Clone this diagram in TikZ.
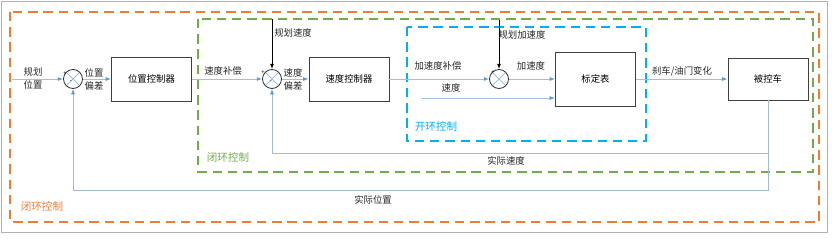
\documentclass[tikz,border=0pt]{standalone}
\usepackage{fontspec}
\setmainfont{Noto Sans CJK SC}
\usetikzlibrary{arrows.meta, positioning, calc}

\definecolor{loopOrange}{RGB}{237,125,49}
\definecolor{loopGreen}{RGB}{112,173,71}
\definecolor{loopBlue}{RGB}{0,176,240}
\definecolor{sigLine}{RGB}{160,192,225}
\definecolor{sigTip}{RGB}{91,155,213}
\definecolor{fbLine}{RGB}{165,185,210}

\begin{document}
\begin{tikzpicture}[
      x=0.03cm, y=-0.03cm,
      font=\fontsize{8pt}{11pt}\selectfont,
      >=Latex,
      block/.style={
        draw=black!75,
        line width=0.8pt,
        minimum width=24mm,
        minimum height=13.2mm,
        inner sep=0pt,
        align=center
      },
      sumnode/.style={
        draw=black!80,
        circle,
        line width=0.7pt,
        minimum size=5.7mm,
        inner sep=0pt,
        path picture={
          \draw[sigLine, line width=0.7pt]
            (path picture bounding box.north west) -- (path picture bounding box.south east)
            (path picture bounding box.north east) -- (path picture bounding box.south west);
        }
      },
      sign/.style={inner sep=0pt, font=\fontsize{5pt}{5pt}\selectfont},
      lbl/.style={inner sep=0pt, align=center, text=black!85},
      looplbl/.style={inner sep=0pt, font=\fontsize{9pt}{11pt}\selectfont},
      sig/.style={-{Latex[length=1.6mm,width=1.2mm,color=sigTip]}, draw=sigLine, line width=0.7pt},
      ref/.style={-{Latex[length=1.6mm,width=1.2mm]}, draw=black, line width=0.7pt},
      fb/.style={draw=fbLine, line width=0.7pt},
      loop/.style={line width=1.6pt, dash pattern=on 8pt off 5pt}
    ]
    \useasboundingbox (0,0) rectangle (832,238);
    \draw[black!30, line width=0.8pt] (1,1) rectangle (827,232);

    % Loop frames
    \draw[loop, loopOrange] (10,12) rectangle (819,222);
    \draw[loop, loopGreen] (198,19) rectangle (813,172);
    \draw[loop, loopBlue] (407,27) rectangle (646,141);

    % Blocks and summing points
    \node[sumnode] (sum1) at (73,79) {};
    \node[block] (posctrl) at (151.5,79) {位置控制器};
    \node[sumnode] (sum2) at (272,79) {};
    \node[block] (velctrl) at (349,79) {速度控制器};
    \node[sumnode] (sum3) at (499,79) {};
    \node[block, minimum height=16.2mm] (caltable) at (595.5,79) {标定表};
    \node[block, minimum height=12.6mm] (plant) at (768,79) {被控车};

    % Signs
    \node[sign] (sum1p) at (65,74) {+};
    \node[sign] (sum1m) at (71,82) {-};
    \node[sign] (sum2p) at (263,73) {+};
    \node[sign] (sum2m) at (271,82) {-};
    \node[sign] (sum3p) at (493,73) {+};

    % Free ends
    \coordinate (posIn) at (12,79);
    \coordinate (velRef) at (272,19);
    \coordinate (accRef) at (499,20);
    \coordinate (velIn) at (422,98);
    \coordinate (fbPos) at (73,190);
    \coordinate (fbVel) at (272,153);

    % Forward path
    \draw[sig] (posIn) -- (sum1);
    \draw[sig] (sum1) -- (posctrl);
    \draw[sig] (posctrl) -- (sum2);
    \draw[ref] (velRef) -- (sum2);
    \draw[sig] (sum2) -- (velctrl);
    \draw[sig] (velctrl) -- (sum3);
    \draw[ref] (accRef) -- (sum3);
    \draw[sig] (sum3) -- (caltable);
    \draw[sig] (velIn) -- (velIn -| caltable.west);
    \draw[sig] (caltable) -- (plant);

    % Feedback
    \draw[fb] (plant.south) |- (fbPos);
    \draw[sig, draw=fbLine] (fbPos) -- (sum1);
    \draw[fb] (plant.south |- fbVel) -- (fbVel);
    \draw[sig, draw=fbLine] (fbVel) -- (sum2);

    % Labels
    \node[lbl] (lposin) at (33,78) {规划\\位置};
    \node[lbl] (lposerr) at (94,79) {位置\\偏差};
    \node[lbl] (lvelcomp) at (223,71) {速度补偿};
    \node[lbl] (lvelref) at (293,33) {规划速度};
    \node[lbl] (lvelerr) at (293,79) {速度\\偏差};
    \node[lbl] (lacccomp) at (438,66) {加速度补偿};
    \node[lbl] (laccref) at (522,35) {规划加速度};
    \node[lbl] (lacc) at (531,66) {加速度};
    \node[lbl] (lvel) at (451,88) {速度};
    \node[lbl] (lbrake) at (682,71) {刹车/油门变化};
    \node[lbl] (lactvel) at (506,161) {实际速度};
    \node[lbl] (lactpos) at (373,200) {实际位置};
    \node[looplbl, text=loopGreen] (lgreen) at (228,157) {闭环控制};
    \node[looplbl, text=loopOrange] (lorange) at (42,206) {闭环控制};
    \node[looplbl, text=loopBlue] (lblue) at (436,127) {开环控制};

  \end{tikzpicture}
\end{document}
